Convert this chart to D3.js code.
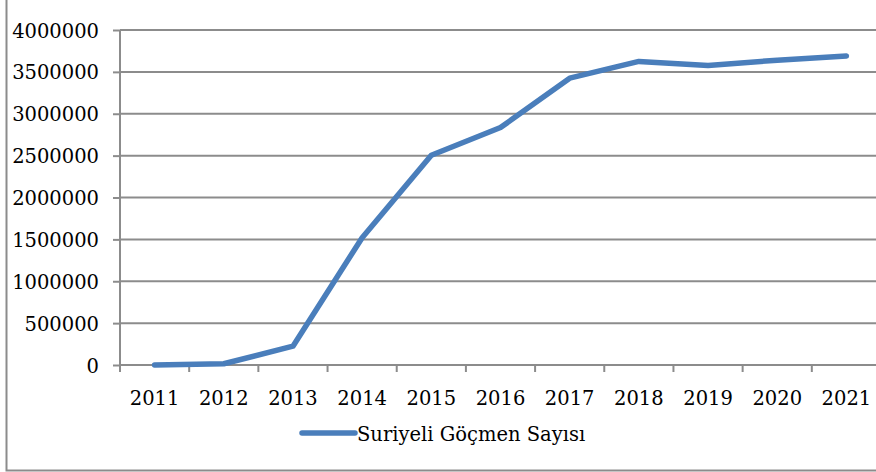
<!DOCTYPE html>
<html>
<head>
<meta charset="utf-8">
<script src="https://cdn.jsdelivr.net/npm/d3@7"></script>
<style>
  body { margin: 0; background: #fff; }
</style>
</head>
<body>
<div id="chart"></div>
<script>
// Chart data
const years = ["2011", "2012", "2013", "2014", "2015", "2016", "2017", "2018", "2019", "2020", "2021"];
const migrants = [0, 15000, 225000, 1520000, 2505000, 2835000, 3425000, 3625000, 3575000, 3640000, 3690000];
const yTicks = [0, 500000, 1000000, 1500000, 2000000, 2500000, 3000000, 3500000, 4000000];
const seriesName = "Suriyeli Göçmen Sayısı";

const width = 876, height = 472;
const margin = { top: 30, right: -5, bottom: 107, left: 120 };
const lineColor = "#4a7ebb";
const gridColor = "#8c8c8c";
const fontFamily = "'DejaVu Serif', 'Liberation Serif', serif";
const fontSize = "19.5px";

const svg = d3.select("#chart")
    .append("svg")
    .attr("width", width)
    .attr("height", height)
    .attr("font-family", fontFamily);

// Outer chart border (top and right are cut off in the picture)
svg.append("rect")
    .attr("x", 6.5)
    .attr("y", -10)
    .attr("width", width + 20)
    .attr("height", 480.5)
    .attr("fill", "none")
    .attr("stroke", gridColor)
    .attr("stroke-width", 2);

const x = d3.scaleBand()
    .domain(years)
    .range([margin.left, width - margin.right])
    .paddingInner(0)
    .paddingOuter(0);

const y = d3.scaleLinear()
    .domain([0, 4000000])
    .range([height - margin.bottom, margin.top]);

// Y axis ticks and labels
const yAxis = svg.append("g")
    .attr("transform", `translate(${margin.left},0)`)
    .call(d3.axisLeft(y)
        .tickValues(yTicks)
        .tickFormat(d3.format("d"))
        .tickSize(7)
        .tickPadding(14));
yAxis.select(".domain").remove();
yAxis.attr("font-family", fontFamily);
yAxis.selectAll(".tick line").attr("stroke", gridColor).attr("stroke-width", 2);
yAxis.selectAll(".tick text")
    .attr("fill", "#000")
    .style("font-size", fontSize)
    .attr("dy", "0.36em");

// Gridlines
svg.append("g")
    .selectAll("line")
    .data(yTicks)
    .join("line")
    .attr("x1", margin.left)
    .attr("x2", width + 10)
    .attr("y1", d => y(d))
    .attr("y2", d => y(d))
    .attr("stroke", gridColor)
    .attr("stroke-width", 2);

// Vertical axis line
svg.append("line")
    .attr("x1", margin.left)
    .attr("x2", margin.left)
    .attr("y1", y(4000000))
    .attr("y2", y(0) + 7)
    .attr("stroke", gridColor)
    .attr("stroke-width", 2);

// X axis: ticks at category boundaries
const boundaries = years.map(d => x(d)).concat([x(years[years.length - 1]) + x.bandwidth()]);
svg.append("g")
    .selectAll("line")
    .data(boundaries)
    .join("line")
    .attr("x1", d => d)
    .attr("x2", d => d)
    .attr("y1", y(0))
    .attr("y2", y(0) + 7)
    .attr("stroke", gridColor)
    .attr("stroke-width", 2);

svg.append("g")
    .selectAll("text")
    .data(years)
    .join("text")
    .attr("x", d => x(d) + x.bandwidth() / 2)
    .attr("y", y(0) + 40)
    .attr("text-anchor", "middle")
    .style("font-size", fontSize)
    .text(d => d);

// Series line
const line = d3.line()
    .x((d, i) => x(years[i]) + x.bandwidth() / 2)
    .y(d => y(d));

svg.append("path")
    .datum(migrants)
    .attr("fill", "none")
    .attr("stroke", lineColor)
    .attr("stroke-width", 5.5)
    .attr("stroke-linecap", "round")
    .attr("stroke-linejoin", "round")
    .attr("d", line);

// Legend
const legend = svg.append("g").attr("transform", "translate(302,433)");
legend.append("line")
    .attr("x1", 0)
    .attr("x2", 53)
    .attr("stroke", lineColor)
    .attr("stroke-width", 5.5)
    .attr("stroke-linecap", "round");
legend.append("text")
    .attr("x", 55)
    .attr("y", 8)
    .style("font-size", fontSize)
    .text(seriesName);
</script>
</body>
</html>
